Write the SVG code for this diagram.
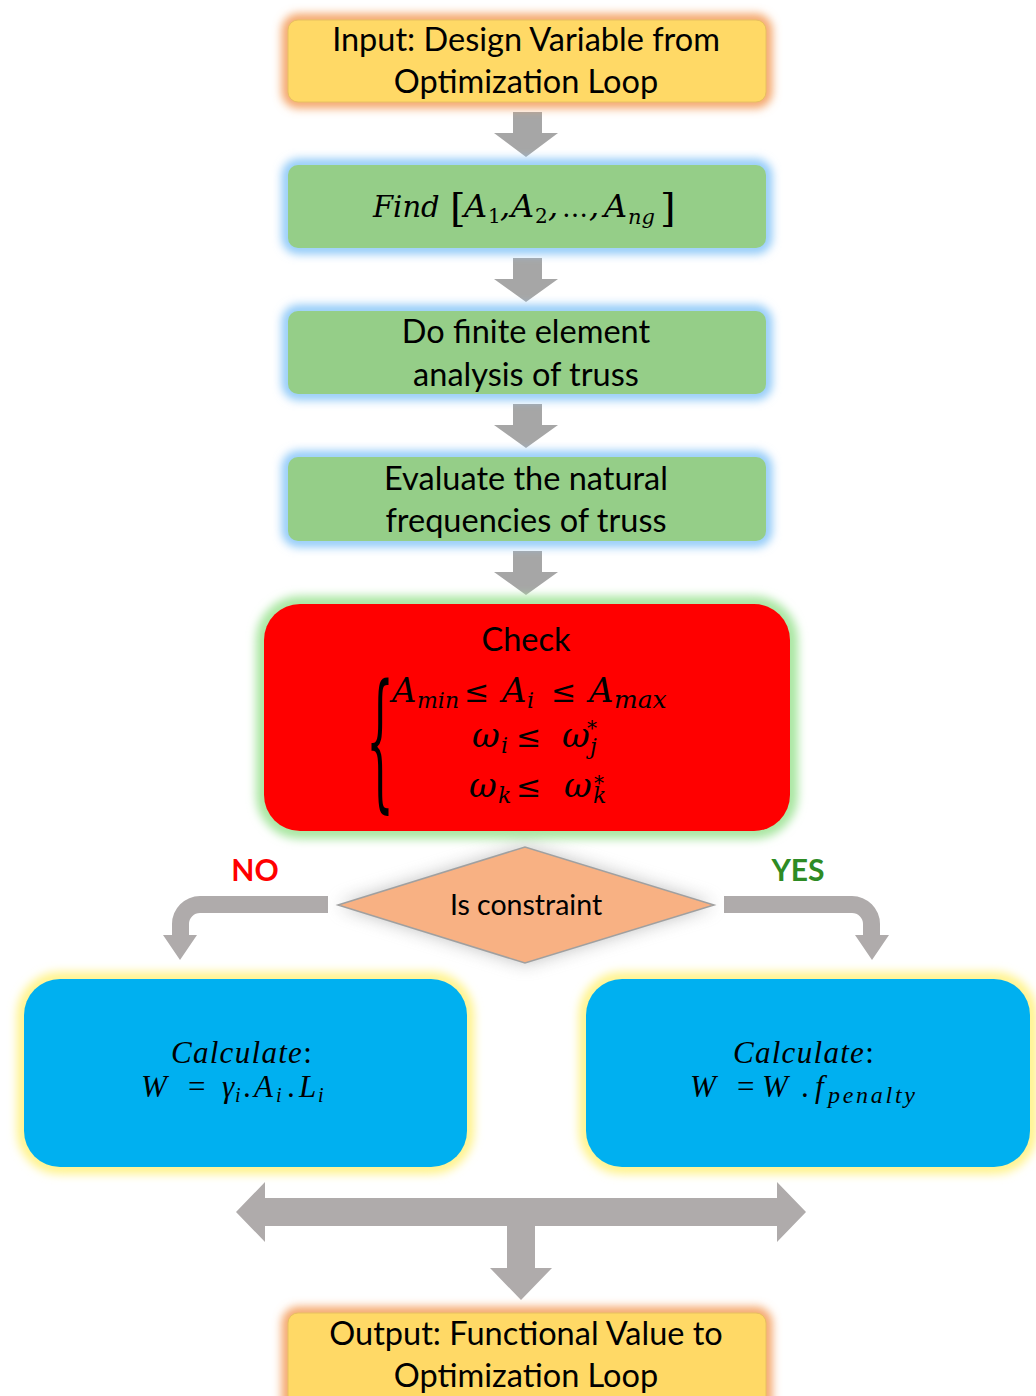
<svg xmlns="http://www.w3.org/2000/svg" width="1036" height="1396" viewBox="0 0 1036 1396">
<style>
.t{font-family:Lato,"Liberation Sans",sans-serif;font-size:32.5px;fill:#000;text-anchor:middle}
.m{font-family:"DejaVu Serif","Liberation Serif",serif;font-style:italic;font-size:34px;fill:#000}
.c{font-family:"Liberation Serif","DejaVu Serif",serif;font-style:italic;font-size:31px;fill:#000}
.up{font-style:normal}
.sub{font-size:21px}
.arr{fill:#A6A6A6}
.arr2{fill:#AFABAB}
.glow{fill:none;filter:url(#blur)}
.no{fill:#FF0000;font-weight:bold;font-size:30px}
.yes{fill:#2E8B24;font-weight:bold;font-size:30px}
</style>
<defs>
<filter id="blur" x="-20%" y="-40%" width="140%" height="180%"><feGaussianBlur stdDeviation="5"/></filter>
<filter id="blur2" x="-20%" y="-40%" width="140%" height="180%"><feGaussianBlur stdDeviation="9"/></filter>
</defs>
<rect width="1036" height="1396" fill="#fff"/>

<g id="connectors">
<path class="arr" d="M513,112 H542 V133 H558 L526,157 L494,133 H513 Z"/>
<path class="arr" d="M513,258 H542 V279 H558 L526,302 L494,279 H513 Z"/>
<path class="arr" d="M513,404 H542 V425 H558 L526,448 L494,425 H513 Z"/>
<path class="arr" d="M513,551 H542 V572 H558 L526,595 L494,572 H513 Z"/>
<path class="arr2" d="M328,896 L200,896 A28,28 0 0 0 172,924 L172,935 L163,935 L180,960 L197,935 L189,935 L189,924 A11,11 0 0 1 200,913 L328,913 Z"/>
<path class="arr2" d="M724,896 L852,896 A28,28 0 0 1 880,924 L880,935 L889,935 L872,960 L855,935 L863,935 L863,924 A11,11 0 0 0 852,913 L724,913 Z"/>
<path class="arr2" d="M236,1212 L265,1182 L265,1198 L777,1198 L777,1182 L806,1212 L777,1242 L777,1226 L535,1226 L535,1268 L552,1268 L521,1300 L490,1268 L507,1268 L507,1226 L265,1226 L265,1242 Z"/>
</g>

<g id="input">
<rect class="glow" x="288" y="20" width="478" height="82" rx="10" stroke="#F4A060" stroke-width="12"/>
<rect x="288" y="20" width="478" height="82" rx="10" fill="#FFD966" stroke="#E8C060" stroke-width="1"/>
<text class="t" x="526" y="51">Input: Design Variable from</text>
<text class="t" x="526" y="93">Optimization Loop</text>
</g>

<g id="find">
<rect class="glow" x="288" y="165" width="478" height="83" rx="10" stroke="#8CC8F8" stroke-width="12"/>
<rect x="288" y="165" width="478" height="83" rx="10" fill="#95CE88"/>
<text class="m" style="font-size:32px"><tspan style="font-size:29px" x="373" y="217">Find</tspan><tspan class="up" style="font-size:40px" x="450" y="221">[</tspan><tspan x="464" y="217">A</tspan><tspan class="up" style="font-size:20px" x="488" y="223">1</tspan><tspan x="500" y="217">,</tspan><tspan x="511" y="217">A</tspan><tspan class="up" style="font-size:20px" x="535" y="223">2</tspan><tspan x="548" y="217">,</tspan><tspan class="up" style="font-size:26px" x="562" y="217">…</tspan><tspan x="589" y="217">,</tspan><tspan x="604" y="217">A</tspan><tspan style="font-size:21px" x="628" y="224">ng</tspan><tspan class="up" style="font-size:40px" x="660" y="221">]</tspan></text>
</g>

<g id="fea">
<rect class="glow" x="288" y="311" width="478" height="83" rx="10" stroke="#8CC8F8" stroke-width="12"/>
<rect x="288" y="311" width="478" height="83" rx="10" fill="#95CE88"/>
<text class="t" x="526" y="343">Do finite element</text>
<text class="t" x="526" y="386">analysis of truss</text>
</g>

<g id="evaluate">
<rect class="glow" x="288" y="457" width="478" height="84" rx="10" stroke="#8CC8F8" stroke-width="12"/>
<rect x="288" y="457" width="478" height="84" rx="10" fill="#95CE88"/>
<text class="t" x="526" y="490">Evaluate the natural</text>
<text class="t" x="526" y="532">frequencies of truss</text>
</g>

<g id="check">
<rect class="glow" x="264" y="604" width="526" height="227" rx="36" stroke="#A8E6A0" stroke-width="16"/>
<rect x="264" y="604" width="526" height="227" rx="36" fill="#FF0000"/>
<text class="t" x="526" y="651">Check</text>
<text x="0" y="0" font-family="DejaVu Serif,serif" font-size="44" transform="translate(366,792) scale(1,3.4)">{</text>
<text class="m"><tspan x="392" y="702">A</tspan><tspan class="sub" style="font-size:22px" x="417" y="708">min</tspan><tspan class="up" style="font-size:30px" x="464" y="702">≤</tspan><tspan x="502" y="702">A</tspan><tspan class="sub" style="font-size:22px" x="527" y="708">i</tspan><tspan class="up" style="font-size:30px" x="551" y="702">≤</tspan><tspan x="589" y="702">A</tspan><tspan class="sub" style="font-size:25px" x="614" y="708">max</tspan></text>
<text class="m"><tspan x="472" y="747">ω</tspan><tspan class="sub" style="font-size:22px" x="501" y="753">i</tspan><tspan class="up" style="font-size:30px" x="516" y="747">≤</tspan><tspan x="562" y="747">ω</tspan><tspan class="sub" style="font-size:22px" x="590" y="754">j</tspan></text>
<text class="m up" style="font-size:20px" x="587" y="735">*</text>
<text class="m"><tspan x="469" y="797">ω</tspan><tspan class="sub" style="font-size:22px" x="498" y="803">k</tspan><tspan class="up" style="font-size:30px" x="516" y="797">≤</tspan><tspan x="564" y="797">ω</tspan><tspan class="sub" style="font-size:22px" x="593" y="803">k</tspan></text>
<text class="m up" style="font-size:20px" x="594" y="790">*</text>
</g>

<g id="decision">
<path d="M338,905 L525,847 L714,905 L525,963 Z" fill="#888" opacity="0.55" filter="url(#blur2)"/>
<path d="M338,905 L525,847 L714,905 L525,963 Z" fill="#F8B183" stroke="#A0A0A0" stroke-width="1.5"/>
<text class="t" x="526" y="915" style="font-size:28.5px">Is constraint</text>
<text class="t no" x="255" y="881">NO</text>
<text class="t yes" x="798" y="881">YES</text>
</g>

<g id="calc-left">
<rect class="glow" x="24" y="979" width="443" height="188" rx="36" stroke="#FFF38A" stroke-width="14"/>
<rect x="24" y="979" width="443" height="188" rx="36" fill="#00B0F0"/>
<text class="c" x="242" y="1063" text-anchor="middle" letter-spacing="1.3">Calculate<tspan class="up">:</tspan></text>
<text class="c"><tspan x="141" y="1097">W</tspan><tspan class="up" x="188" y="1097">=</tspan><tspan x="222" y="1097">γ</tspan><tspan class="sub" style="font-size:20px" x="235" y="1102">i</tspan><tspan class="up" x="243" y="1097">.</tspan><tspan x="254" y="1097">A</tspan><tspan class="sub" style="font-size:20px" x="276" y="1102">i</tspan><tspan class="up" x="287" y="1097">.</tspan><tspan x="299" y="1097">L</tspan><tspan class="sub" style="font-size:20px" x="318" y="1102">i</tspan></text>
</g>

<g id="calc-right">
<rect class="glow" x="586" y="979" width="444" height="188" rx="36" stroke="#FFF38A" stroke-width="14"/>
<rect x="586" y="979" width="444" height="188" rx="36" fill="#00B0F0"/>
<text class="c" x="804" y="1063" text-anchor="middle" letter-spacing="1.3">Calculate<tspan class="up">:</tspan></text>
<text class="c"><tspan x="690" y="1097">W</tspan><tspan class="up" x="737" y="1097">=</tspan><tspan x="762" y="1097">W</tspan><tspan class="up" x="801" y="1097">.</tspan><tspan x="815" y="1097">f</tspan><tspan style="font-size:24px" x="828" y="1103" textLength="87">penalty</tspan></text>
</g>

<g id="output">
<rect class="glow" x="288" y="1313" width="478" height="100" rx="10" stroke="#F4A060" stroke-width="12"/>
<rect x="288" y="1313" width="478" height="100" rx="10" fill="#FFD966" stroke="#E8C060" stroke-width="1"/>
<text class="t" x="526" y="1345">Output: Functional Value to</text>
<text class="t" x="526" y="1387">Optimization Loop</text>
</g>
</svg>
